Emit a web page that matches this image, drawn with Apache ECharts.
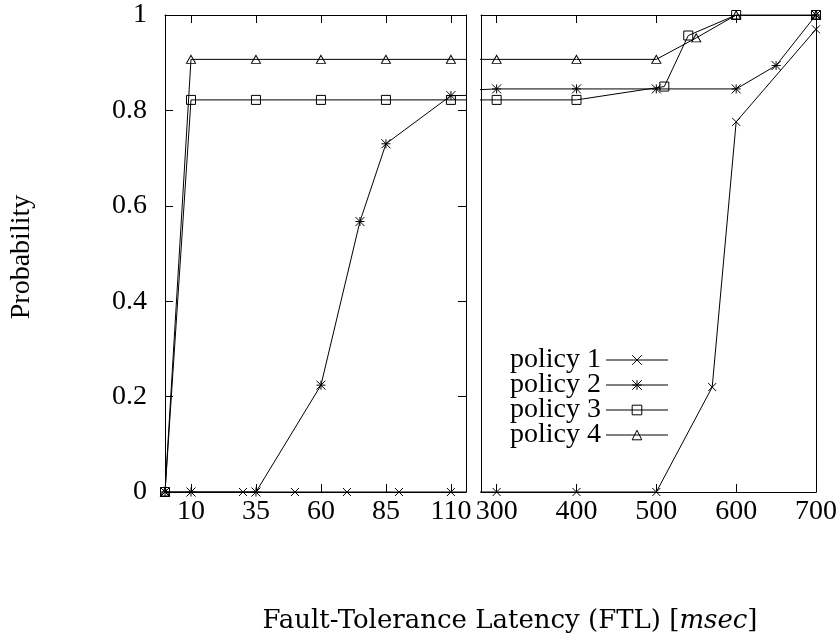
<!DOCTYPE html>
<html><head><meta charset="utf-8">
<script src="https://cdn.jsdelivr.net/npm/echarts@6/dist/echarts.min.js"></script>
<style>html,body{margin:0;padding:0;background:#fff}#c{width:840px;height:644px}</style>
</head><body><div id="c"></div>
<script>
const seriesNames = ['policy 1', 'policy 2', 'policy 3', 'policy 4'];
const p1X = [0, 10, 30, 50, 70, 90, 110, 300, 400, 500, 570, 600, 700];
const p1Y = [0, 0, 0, 0, 0, 0, 0, 0, 0, 0, 0.22, 0.776, 0.97];
const p2X = [0, 10, 35, 60, 75, 85, 110, 300, 400, 500, 600, 650, 700];
const p2Y = [0, 0, 0, 0.224, 0.567, 0.73, 0.831, 0.845, 0.845, 0.845, 0.845, 0.894, 1];
const p3X = [0, 10, 35, 60, 85, 110, 300, 400, 510, 540, 600, 700];
const p3Y = [0, 0.822, 0.822, 0.822, 0.822, 0.822, 0.822, 0.822, 0.85, 0.957, 1, 1];
const p4X = [0, 10, 35, 60, 85, 110, 300, 400, 500, 550, 600, 700];
const p4Y = [0, 0.907, 0.907, 0.907, 0.907, 0.907, 0.907, 0.907, 0.907, 0.952, 1, 1];
const leftTicks = [10, 35, 60, 85, 110];
const rightTicks = [300, 400, 500, 600, 700];

const FONT = '"Liberation Serif", "Times New Roman", serif';
const crossPath = 'path://M0,0L10,10M10,0L0,10';
const starPath = 'path://M0,0L10,10M10,0L0,10M5,0L5,10M0,5L10,5';
const symbols = [crossPath, starPath, 'rect', 'triangle'];
const symSizes = [8, 9, 9, [9, 8]];
const allX = [p1X, p2X, p3X, p4X];
const allY = [p1Y, p2Y, p3Y, p4Y];

const chart = echarts.init(document.getElementById('c'), null, {renderer: 'canvas'});

const lineAx = {show: true, onZero: false, lineStyle: {color: '#000', width: 1}};
function xAx(gi, pos, min, max, ticks, labels) {
  return {
    type: 'value', gridIndex: gi, position: pos, min: min, max: max,
    axisLine: lineAx,
    axisTick: {show: true, inside: true, length: 8, customValues: ticks, lineStyle: {color: '#000', width: 1}},
    axisLabel: labels ? {show: true, customValues: ticks, fontSize: 28, fontFamily: FONT, color: '#000', margin: 6} : {show: false},
    splitLine: {show: false}
  };
}
function yAx(gi, pos, ticks, labels) {
  return {
    type: 'value', gridIndex: gi, position: pos, min: 0, max: 1, interval: 0.2,
    axisLine: lineAx,
    axisTick: ticks ? {show: true, inside: true, length: 8, lineStyle: {color: '#000', width: 1}} : {show: false},
    axisLabel: labels ? {show: true, fontSize: 28, fontFamily: FONT, color: '#000', margin: 18} : {show: false},
    splitLine: {show: false}
  };
}

const series = [];
[0, 1].forEach(function (gi) {
  seriesNames.forEach(function (name, k) {
    series.push({
      name: name, type: 'line', xAxisIndex: gi * 2, yAxisIndex: gi * 2,
      data: allX[k].map(function (x, i) { return [x, allY[k][i]]; }),
      symbol: symbols[k], symbolSize: symSizes[k], showSymbol: true, clip: true,
      lineStyle: {color: '#000', width: 1},
      itemStyle: {color: 'rgba(0,0,0,0)', borderColor: '#000', borderWidth: 1},
      emphasis: {disabled: true}, animation: false, z: 2 + k
    });
  });
});

chart.setOption({
  animation: false,
  backgroundColor: '#fff',
  grid: [
    {left: 165, top: 15, width: 301, height: 477},
    {left: 481, top: 15, width: 336, height: 477}
  ],
  xAxis: [
    xAx(0, 'bottom', 0, 115.8, leftTicks, true),
    xAx(0, 'top', 0, 115.8, leftTicks, false),
    xAx(1, 'bottom', 280.4, 700, rightTicks, true),
    xAx(1, 'top', 280.4, 700, rightTicks, false)
  ],
  yAxis: [
    yAx(0, 'left', true, true),
    yAx(0, 'right', true, false),
    yAx(1, 'left', false, false),
    yAx(1, 'right', false, false)
  ],
  legend: {
    data: seriesNames, orient: 'vertical', left: 510, top: 346, align: 'right', padding: 0,
    itemWidth: 62, itemHeight: 12, itemGap: -3, selectedMode: false,
    itemStyle: {color: 'rgba(0,0,0,0)', borderColor: '#000', borderWidth: 1},
    lineStyle: {color: '#000', width: 1},
    textStyle: {fontSize: 28, fontFamily: FONT, color: '#000'}
  },
  graphic: [
    {type: 'text', x: 22, y: 257, rotation: Math.PI / 2,
      style: {text: 'Probability', fontSize: 28, fontFamily: FONT, fill: '#000', align: 'center', verticalAlign: 'middle'}},
    {type: 'text', x: 510, y: 621,
      style: {text: 'Fault-Tolerance Latency (FTL) [{i|msec}]', fontSize: 26, fontFamily: '"DejaVu Serif", serif', fill: '#000', align: 'center', verticalAlign: 'middle',
        rich: {i: {fontStyle: 'italic', fontSize: 26, fontFamily: '"DejaVu Serif", serif'}}}}
  ],
  series: series
});
</script></body></html>
